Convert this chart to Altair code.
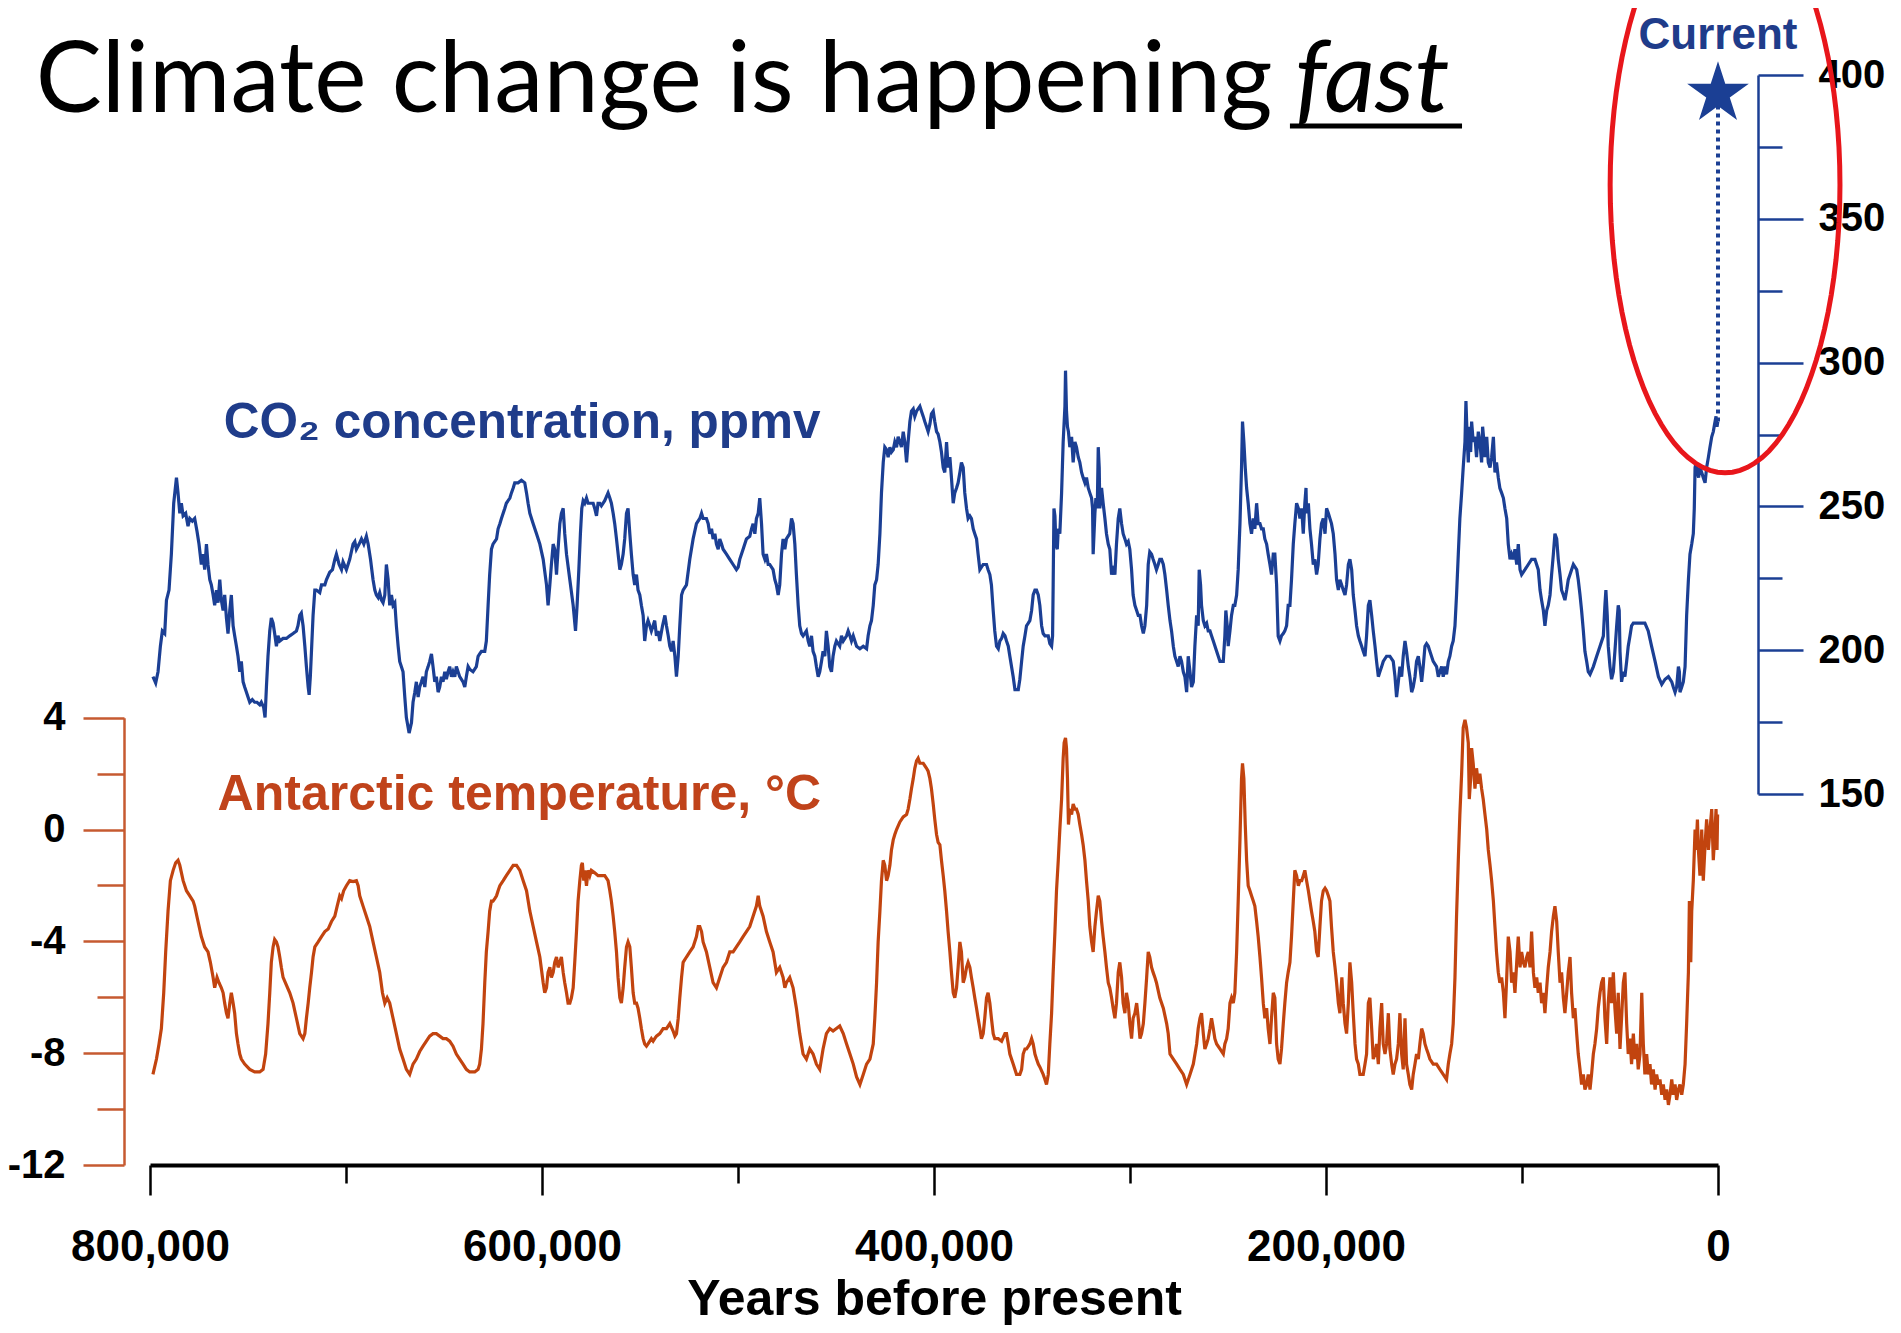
import math
import altair as alt
import pandas as pd

# ---------------- data ----------------
# CO2 record: age in thousands of years before present, CO2 in ppmv
co2_kyr = [
798.5,797.1,795.9,794.7,793.7,792.5,791.6,790.3,789.1,787.9,786.5,785.7,784.8,784.0,783.1,781.8,780.6,779.7,778.4,777.2,
776.0,775.0,773.8,772.9,772.1,771.2,770.4,769.5,768.7,767.8,767.0,766.1,765.3,764.4,763.6,762.7,761.9,761.0,760.2,759.3,
758.5,757.6,756.8,755.9,755.1,754.2,753.4,752.5,751.7,750.8,750.0,749.1,747.8,746.6,745.4,744.0,743.2,742.0,741.3,740.6,
739.8,738.9,738.1,737.2,736.4,735.5,734.7,733.8,732.1,730.4,728.7,727.0,725.3,724.5,723.6,722.8,721.9,721.0,720.2,719.3,
718.8,718.2,717.5,716.8,715.9,715.1,713.4,712.5,710.8,710.0,708.3,706.9,705.7,704.9,703.5,702.3,701.5,699.8,698.1,696.4,
695.5,694.7,693.3,692.1,690.9,689.6,688.7,687.5,686.2,685.3,684.5,683.6,682.8,681.9,681.1,680.2,679.4,678.5,677.7,676.8,
676.0,675.1,674.3,673.4,672.6,
670.9,670.0,669.2,667.8,666.6,665.8,664.9,664.1,663.2,662.4,661.5,660.7,659.8,659.0,658.1,657.3,656.4,655.6,654.7,653.9,
653.0,652.2,651.3,650.5,649.6,648.8,647.9,647.1,646.2,645.4,644.5,643.7,642.0,640.3,639.4,638.6,637.7,636.9,635.2,633.5,
632.6,631.8,630.9,629.2,628.4,627.5,626.7,625.8,625.0,623.2,622.4,621.5,620.7,619.0,618.2,616.4,615.6,614.7,613.9,612.2,
610.5,608.8,607.9,607.1,606.2,604.5,602.8,601.1,599.4,597.7,596.9,596.0,595.2,594.3,593.5,592.6,591.8,590.9,590.1,589.2,
588.4,587.5,585.8,584.1,582.9,582.1,581.2,580.4,579.7,579.0,578.2,577.3,576.5,575.6,573.9,573.1,572.2,571.4,570.5,569.7,
568.0,566.3,565.4,564.6,563.7,562.9,562.0,560.3,559.5,558.6,557.8,556.9,556.1,555.2,554.4,553.5,552.7,551.8,551.0,550.1,
549.3,548.4,547.6,546.7,545.9,545.0,544.2,543.3,542.5,541.6,540.8,
539.9,538.5,537.3,536.5,535.6,534.8,533.9,533.1,532.2,531.4,530.5,529.7,528.8,528.0,526.3,524.6,522.9,521.2,519.5,518.6,
517.8,516.1,515.2,514.4,513.5,512.7,511.8,511.0,510.1,509.3,508.4,507.6,505.9,504.2,502.5,500.8,499.9,499.1,497.4,495.7,
494.0,493.1,492.3,491.4,490.6,489.7,488.9,488.0,487.2,486.3,485.5,484.6,483.8,482.1,481.2,480.4,479.5,478.7,477.8,477.0,
476.1,475.3,473.6,472.7,471.9,471.0,470.2,469.3,468.5,467.6,466.8,465.1,464.2,463.4,462.5,461.7,460.8,460.0,459.1,458.3,
457.4,456.6,455.7,454.9,454.0,453.2,452.3,451.5,450.6,449.8,448.1,447.2,446.3,444.6,443.8,442.9,442.1,441.2,439.5,437.8,
436.1,434.4,433.6,432.7,431.9,431.0,430.2,429.3,428.5,427.6,426.8,425.9,425.1,424.2,423.4,422.5,421.7,420.8,420.0,419.1,
418.3,417.4,416.6,415.7,414.9,414.0,413.2,412.3,411.5,410.6,409.8,408.9,
407.2,406.4,405.5,404.7,403.8,403.0,402.1,401.3,400.4,399.6,398.7,397.9,397.0,396.2,395.3,394.5,393.6,392.8,391.9,391.1,
390.2,389.4,388.5,387.7,386.8,386.0,385.1,384.3,383.4,382.6,381.7,380.9,380.0,379.2,378.3,377.5,376.6,374.9,373.2,372.4,
371.5,370.7,369.8,369.0,368.1,367.2,366.4,365.5,364.7,363.8,363.0,362.1,361.3,359.6,358.7,357.0,356.2,355.3,354.5,353.6,
352.8,351.9,351.1,350.2,349.4,348.5,347.7,346.8,346.0,345.1,344.3,343.4,341.7,340.9,340.0,339.5,339.2,338.8,338.3,337.8,
337.1,336.6,335.8,334.9,334.1,333.2,332.9,332.4,331.9,331.4,330.7,329.8,329.0,328.1,327.3,326.4,325.6,324.7,323.9,323.0,
322.2,321.3,320.5,319.6,319.1,318.8,317.9,317.4,316.7,316.2,315.7,315.4,314.5,313.7,312.8,312.0,311.1,310.3,309.4,308.6,
307.7,306.9,306.0,305.2,304.3,303.5,302.6,301.8,300.9,300.1,299.2,298.4,297.5,296.6,295.8,294.9,294.1,293.2,292.4,291.5,
290.7,289.9,289.0,288.2,287.3,286.5,285.6,284.8,283.9,283.0,282.2,281.3,280.5,279.6,278.8,277.9,277.1,276.2,275.4,
274.5,273.7,272.8,272.0,271.1,270.3,269.4,268.6,267.7,266.9,266.0,265.2,264.7,264.0,263.5,262.6,261.8,260.9,260.1,259.2,
258.4,257.5,255.8,254.1,252.4,251.6,251.1,250.4,249.9,249.0,248.2,247.3,246.5,245.6,244.8,243.9,243.1,242.6,241.9,241.2,
240.5,239.7,238.8,238.0,237.1,236.3,235.4,234.6,233.7,232.9,232.0,231.2,230.3,229.5,228.6,227.8,226.9,226.1,225.2,224.4,
223.5,222.7,221.8,221.0,220.1,219.3,218.4,217.6,216.7,215.9,215.0,214.1,213.3,212.4,211.6,210.8,210.2,209.9,209.0,208.2,
207.4,206.5,205.7,204.8,204.0,203.1,202.3,201.4,200.5,199.7,198.8,198.0,197.2,196.3,195.4,194.6,193.7,192.9,192.0,191.2,
190.3,189.5,188.6,187.8,186.9,186.1,185.2,184.4,183.5,182.7,181.8,181.0,180.1,179.3,178.4,177.6,176.7,175.9,175.0,174.2,
173.3,172.5,171.6,170.8,169.1,167.4,165.7,164.8,164.0,163.1,162.3,161.4,160.6,159.7,158.9,158.0,157.2,156.3,155.5,154.6,
153.8,152.9,152.1,151.2,150.4,149.5,148.7,147.8,147.0,145.3,143.6,142.7,
141.9,141.0,140.2,139.3,138.5,137.6,136.8,135.9,135.1,134.2,133.4,132.5,131.7,130.8,130.0,129.1,128.6,127.9,127.4,126.9,
126.2,125.7,124.9,124.0,123.2,122.3,121.5,120.6,120.1,119.4,118.9,118.0,117.2,116.3,115.5,114.6,113.8,113.0,112.1,111.3,
110.4,109.5,108.7,107.8,107.0,106.1,105.3,104.4,103.6,102.7,101.9,101.0,100.2,98.5,96.8,95.1,93.4,91.7,90.8,90.0,
89.1,88.3,87.4,86.6,85.7,84.9,84.0,83.2,82.3,81.5,80.6,79.8,78.9,78.1,77.2,76.4,75.5,74.7,73.8,72.1,
71.3,70.4,69.6,68.7,67.9,67.0,66.2,65.3,63.6,61.9,60.2,58.5,57.7,57.2,56.5,56.0,55.1,54.3,53.4,52.6,
51.7,50.9,50.4,50.0,49.2,48.3,47.5,46.6,45.8,44.9,44.1,43.2,39.8,37.3,35.6,33.9,32.1,30.4,28.7,27.0,
25.3,23.6,22.8,21.9,21.1,20.2,19.7,19.4,18.5,17.7,16.8,16.0,15.1,14.3,13.4,12.6,12.1,11.7,11.2,10.5,
9.9,9.2,8.3,7.5,6.6,5.8,4.9,4.1,3.2,2.4,1.5,1.0,0.5,0.1,
]
co2_ppm = [
190.8,188.6,192.5,201.4,206.7,205.8,217.4,220.9,233.4,251.1,260.0,254.7,247.6,251.1,246.7,247.6,243.1,245.8,244.9,245.8,
241.3,236.9,229.8,233.4,228.0,236.9,229.8,224.5,222.7,219.2,215.6,220.9,216.5,224.5,217.4,213.8,219.2,211.2,205.8,213.8,
219.2,208.5,205.0,201.4,197.9,192.5,196.1,189.0,187.2,185.4,183.7,181.9,182.8,181.9,181.9,181.0,181.9,180.1,176.6,187.2,
197.9,206.7,211.2,209.4,205.8,201.4,205.0,203.2,204.1,204.1,205.0,205.8,206.7,208.5,212.1,212.9,208.5,201.4,194.3,187.2,
184.5,190.8,201.4,212.1,220.9,220.9,220.0,222.7,222.7,224.5,227.1,228.0,231.6,233.4,229.8,228.0,230.7,228.0,231.6,236.9,
237.8,235.1,236.9,238.7,236.9,239.6,236.9,231.6,224.5,220.9,219.2,218.3,220.0,217.4,216.5,219.2,229.8,224.5,215.6,219.2,
215.6,216.5,208.5,201.4,196.1,
192.5,183.7,176.6,171.2,174.8,181.9,185.4,189.0,183.7,187.2,189.0,190.8,187.2,192.5,194.3,196.1,198.7,194.3,189.0,190.8,
185.4,187.2,190.8,189.0,192.5,189.9,192.5,194.3,190.8,192.5,190.8,194.3,190.8,189.0,187.2,190.8,194.3,193.4,192.5,194.3,
197.9,198.7,199.6,199.6,203.2,215.6,226.3,235.1,236.9,238.7,242.2,244.0,245.8,249.3,251.1,252.9,254.7,256.4,258.2,258.2,
259.1,258.2,254.7,251.1,247.6,244.0,240.5,236.9,231.6,222.7,215.6,222.7,229.8,236.9,235.1,226.3,235.1,244.0,247.6,249.3,
240.5,233.4,224.5,215.6,206.7,215.6,228.0,240.5,249.3,252.0,251.1,252.9,251.1,251.1,251.1,249.3,246.7,251.1,251.1,250.2,
252.0,254.7,252.9,251.1,247.6,244.0,238.7,228.0,229.8,233.4,238.7,247.6,249.3,240.5,233.4,226.3,222.7,226.3,220.9,219.2,
215.6,212.1,203.2,208.5,210.3,208.5,206.7,208.5,210.3,205.0,206.7,
203.2,208.5,212.1,208.5,205.0,201.4,199.6,203.2,197.9,190.8,197.9,208.5,219.2,220.9,222.7,231.6,238.7,244.0,245.8,247.6,
245.8,245.8,244.0,240.5,242.2,238.7,240.5,236.9,235.1,238.7,236.9,235.1,233.4,231.6,229.8,228.0,228.9,231.6,235.1,238.7,
239.6,242.2,244.0,240.5,245.8,247.6,252.9,244.0,233.4,231.6,233.4,229.8,229.8,228.0,224.5,222.7,219.2,222.7,233.4,238.7,
235.1,238.7,240.5,245.8,244.0,236.9,226.3,215.6,208.5,205.8,205.0,206.7,203.2,201.4,205.0,199.6,197.9,194.3,190.8,192.5,
196.1,199.6,197.9,206.7,201.4,194.3,192.5,197.9,201.4,203.2,201.4,205.0,203.2,205.0,206.7,205.0,203.2,205.0,201.4,200.5,
201.4,200.5,205.0,208.5,210.3,215.6,222.7,224.5,229.8,240.5,254.7,265.3,270.6,269.7,267.1,270.6,268.9,269.7,272.4,270.6,
274.2,272.4,270.6,276.0,272.4,265.3,272.4,279.5,283.1,283.9,281.3,283.1,
284.8,283.1,281.3,279.5,277.7,276.0,278.6,282.2,283.1,279.5,276.0,275.1,272.4,268.9,263.5,261.8,272.4,263.5,267.1,260.0,
251.1,254.7,256.4,258.2,261.8,265.3,263.5,254.7,249.3,245.8,246.7,245.8,242.2,240.5,238.7,233.4,228.0,229.8,229.8,228.0,
226.3,222.7,213.8,206.7,201.4,200.5,203.2,204.1,205.8,205.0,203.2,201.4,197.9,190.8,186.3,186.3,189.9,196.1,201.4,205.0,
208.5,209.4,210.3,213.8,219.2,220.9,220.9,219.2,215.6,208.5,205.8,205.0,205.0,202.3,201.4,205.0,222.7,249.3,246.7,236.9,
235.1,242.2,240.5,254.7,272.4,284.8,297.2,283.1,277.7,276.0,270.6,274.2,265.3,272.4,270.6,267.1,265.3,261.8,260.0,258.2,
260.0,256.4,254.7,252.9,249.3,233.4,247.6,252.9,249.3,270.6,263.5,249.3,256.4,251.1,245.8,240.5,236.9,235.1,226.3,228.0,
226.3,236.9,245.8,249.3,244.0,240.5,238.7,236.9,237.8,235.1,228.0,219.2,215.6,213.8,212.1,212.1,208.5,205.8,208.5,215.6,
229.8,234.2,233.4,231.6,229.8,228.0,229.8,231.6,231.6,229.8,226.3,220.9,215.6,210.3,206.7,201.4,197.9,196.1,194.3,
197.9,196.1,192.5,190.8,185.4,197.9,192.5,187.2,189.0,201.4,212.1,208.5,228.0,222.7,215.6,210.3,208.5,209.4,206.7,206.7,
205.0,203.2,199.6,196.1,196.1,205.0,213.8,208.5,201.4,206.7,212.1,215.6,215.6,219.2,228.0,244.0,263.5,279.5,272.4,263.5,
256.4,251.1,244.0,240.5,245.8,242.2,251.1,244.0,244.0,242.2,242.2,238.7,236.9,233.4,229.8,226.3,233.4,233.4,222.7,204.9,
203.2,205.0,205.8,206.7,208.5,215.6,215.6,224.5,236.9,244.0,251.1,249.3,245.8,249.3,240.5,251.1,256.4,247.6,251.1,242.2,
236.9,229.8,231.6,226.3,229.8,238.7,244.0,245.8,240.5,249.3,247.6,245.8,244.0,240.5,233.4,224.5,220.9,224.5,222.7,220.9,
219.2,222.7,229.8,231.6,228.0,219.2,213.8,208.5,205.0,203.2,201.4,199.6,197.9,205.0,215.6,217.4,212.1,206.7,201.4,196.1,
190.8,192.5,194.3,196.1,197.9,197.9,196.1,190.8,183.7,189.0,194.3,190.8,197.9,203.2,199.6,194.3,190.8,185.4,187.2,190.8,
196.1,197.9,194.3,189.0,194.3,201.4,202.3,201.4,199.6,196.1,194.3,190.8,
192.5,194.3,190.8,194.3,191.6,196.1,197.9,201.4,203.2,208.5,219.2,233.4,245.8,254.7,263.5,272.4,286.6,272.4,265.3,277.7,
268.9,279.5,272.4,274.2,267.1,276.0,272.4,265.3,277.7,272.4,267.1,274.2,265.3,263.5,267.1,274.2,261.8,265.3,260.0,256.4,
254.7,252.9,249.3,245.8,236.9,231.6,233.4,231.6,235.1,229.8,236.9,228.0,226.3,228.0,229.8,231.6,231.6,228.0,220.9,217.4,
213.8,208.5,213.8,215.6,219.2,226.3,233.4,240.5,238.7,231.6,226.3,220.9,219.2,217.4,220.9,224.5,226.3,228.0,229.8,228.0,
224.5,219.2,213.8,206.7,199.6,196.1,192.5,191.6,194.3,197.9,201.4,204.9,215.6,220.9,212.1,201.4,194.3,189.9,192.5,199.6,
208.5,215.6,213.8,199.6,189.0,192.5,190.8,196.1,201.4,205.0,208.5,209.4,209.4,209.4,206.7,201.4,196.1,190.8,188.1,189.9,
190.8,189.0,187.2,185.4,187.2,194.3,192.5,185.4,187.2,189.0,194.3,212.1,224.5,233.4,236.9,240.5,249.3,263.5,265.3,261.8,
260.0,263.5,261.8,260.0,258.2,263.5,267.1,270.6,274.2,276.0,279.5,281.3,277.7,279.5,
]

# Antarctic temperature anomaly: age in kyr before present, degrees C
temp_kyr = [
798.5,796.7,795.4,794.2,793.0,792.0,790.8,789.6,788.2,786.9,785.7,784.8,783.1,781.4,779.7,778.0,777.2,775.5,773.8,772.1,
770.4,769.2,767.8,767.0,765.8,764.8,763.6,762.7,761.9,761.0,760.2,759.3,758.5,757.6,756.8,755.9,755.1,754.2,753.4,751.7,
749.1,746.6,744.0,742.3,741.0,739.8,738.9,738.1,737.2,736.4,735.5,734.7,733.8,733.0,732.1,730.4,728.7,727.0,725.3,723.6,
721.9,721.0,720.2,719.3,718.5,717.6,716.8,715.9,714.2,712.5,710.8,709.1,707.4,705.7,704.5,703.2,702.3,701.2,699.8,698.1,
696.4,694.7,693.8,693.0,691.3,689.6,687.9,686.2,684.5,682.8,681.4,680.2,679.0,677.7,676.0,674.3,672.6,
670.9,669.2,667.5,665.8,664.1,662.4,660.7,659.0,657.3,655.6,653.9,652.2,650.5,648.8,647.1,645.4,643.7,642.0,640.3,638.6,
636.9,634.3,632.6,631.8,630.9,630.1,629.2,628.4,627.5,626.7,625.8,625.0,624.1,623.2,622.4,621.5,619.8,618.2,616.4,614.7,
613.0,611.3,609.6,607.9,606.2,604.5,602.8,601.1,599.4,598.6,597.7,596.9,596.0,595.2,594.3,593.5,592.6,591.8,590.9,590.1,
589.2,588.4,587.5,586.7,585.8,585.0,584.1,583.3,582.4,581.6,580.7,579.9,579.4,578.7,578.2,577.3,576.5,575.6,574.8,573.1,
571.4,569.7,568.0,566.3,565.4,564.6,563.7,562.9,562.0,561.2,560.3,559.5,558.6,557.8,556.9,556.1,555.2,554.4,553.5,552.7,
551.8,551.0,550.1,549.3,548.4,547.6,546.7,545.9,545.0,544.2,543.3,542.5,541.6,539.9,
538.2,536.5,534.8,533.1,532.2,531.4,530.5,529.7,528.8,528.0,526.3,524.6,522.9,521.2,520.3,519.5,518.6,517.8,516.1,514.4,
512.7,511.0,509.3,507.6,505.9,504.2,502.5,500.8,499.1,497.4,495.7,494.0,492.3,490.6,489.7,488.9,487.2,485.5,483.8,482.1,
480.4,478.7,477.0,476.1,475.3,473.6,471.9,470.2,468.5,466.8,465.1,463.4,461.7,460.0,458.3,456.6,454.9,453.2,451.5,449.8,
448.1,446.3,444.6,442.9,441.2,439.5,437.8,436.1,434.4,432.7,431.0,430.2,429.3,428.5,427.6,426.8,425.9,425.1,424.2,423.4,
422.5,421.7,420.8,420.0,419.1,417.4,415.7,414.0,413.2,412.3,411.5,410.6,409.8,408.9,408.1,407.2,
405.5,403.8,403.0,402.1,401.3,400.4,399.6,398.7,397.9,397.0,396.2,395.3,394.5,393.6,392.8,391.9,391.1,390.2,389.4,388.5,
387.7,386.8,386.0,385.1,384.3,383.4,382.6,381.7,380.9,380.0,379.2,378.3,377.5,376.6,375.8,374.9,374.1,373.2,372.4,371.5,
370.7,369.8,369.0,367.2,365.5,363.8,363.0,362.1,361.3,359.6,357.9,356.2,355.3,354.5,353.6,352.8,351.9,351.1,350.2,349.4,
348.5,347.7,346.8,346.0,344.3,343.4,342.6,341.7,340.9,340.0,339.2,338.3,337.5,336.6,335.8,334.9,334.1,333.6,332.9,332.4,
331.9,331.4,330.7,329.8,329.0,328.1,327.3,326.4,325.6,324.7,323.9,323.0,322.2,321.3,320.5,319.6,318.8,317.9,317.1,316.2,
315.4,314.5,313.7,312.8,312.0,311.1,310.3,309.4,308.6,307.7,306.9,306.0,305.2,304.3,303.5,302.6,301.8,300.9,300.1,299.2,
298.4,297.5,296.6,295.8,294.9,294.1,293.2,292.4,291.5,290.7,289.9,289.0,288.2,287.3,286.5,284.8,283.0,281.3,280.5,279.6,
277.9,276.2,274.5,
272.8,271.1,269.4,267.7,266.0,265.2,264.3,263.5,262.6,261.8,260.9,260.1,259.2,258.4,257.5,256.7,255.8,254.1,252.4,251.6,
250.7,249.9,249.0,248.2,247.3,246.5,245.6,244.8,243.9,243.1,242.6,241.9,241.2,240.5,239.7,238.8,238.0,237.1,236.3,235.4,
234.6,233.7,232.9,232.0,231.2,230.3,229.5,228.6,227.8,226.9,226.1,225.2,224.4,223.5,222.7,221.8,221.0,220.1,219.3,218.4,
217.6,216.7,215.9,215.0,214.1,213.3,212.4,211.6,210.8,209.9,209.0,208.2,207.4,206.5,205.7,204.8,204.0,203.1,202.3,201.4,
200.5,199.7,198.8,198.0,197.2,196.3,195.4,194.6,193.7,192.9,192.4,191.9,191.2,190.3,189.5,188.6,187.8,186.9,186.1,185.2,
184.4,183.5,182.7,181.8,181.0,180.1,179.3,178.4,177.6,176.7,175.9,175.0,174.2,173.3,172.5,171.6,170.8,169.9,169.1,168.2,
167.4,166.5,165.7,164.8,164.0,163.1,162.3,161.4,160.6,159.7,158.9,158.0,157.2,156.3,155.5,154.6,153.8,152.9,152.1,151.2,
150.4,149.5,148.7,147.8,147.0,145.3,143.6,141.9,
140.2,138.5,137.6,136.8,135.9,135.1,134.2,133.4,132.5,131.7,130.8,130.0,129.1,128.3,127.4,126.9,126.2,125.7,124.9,124.0,
123.2,122.3,121.5,120.6,119.8,118.9,118.0,117.2,116.3,115.5,114.6,113.8,113.0,112.1,111.3,110.4,109.5,108.7,107.8,107.0,
106.1,105.3,104.4,103.6,102.7,101.9,101.0,100.2,99.3,98.5,97.6,96.8,95.9,95.1,94.2,93.4,92.5,91.7,90.8,90.0,
89.1,88.3,87.4,86.6,85.7,84.9,84.0,83.2,82.3,81.5,80.6,79.8,78.9,78.1,77.2,76.4,75.5,74.7,73.8,73.0,
72.1,71.3,70.4,69.6,68.7,67.9,67.0,66.2,65.3,64.5,63.6,62.8,61.9,61.1,60.2,59.4,58.5,57.7,56.8,56.0,
55.1,54.3,53.4,52.6,51.7,50.9,50.0,49.2,48.3,47.5,46.6,45.8,44.9,44.1,43.2,42.4,41.5,40.7,39.8,38.9,
38.1,37.3,36.4,35.6,34.7,33.9,33.0,32.1,31.3,30.4,29.6,28.7,27.9,27.0,26.2,25.3,24.5,23.6,22.8,21.9,
21.1,20.2,19.4,18.5,17.7,16.8,16.0,15.1,14.6,13.9,13.4,12.6,11.7,11.2,10.5,10.0,9.2,8.3,7.5,6.6,
5.8,4.9,4.1,3.2,2.4,1.5,1.0,0.5,0.2,
]
temp_c = [
-8.76,-8.21,-7.67,-7.12,-5.84,-4.38,-2.92,-1.83,-1.46,-1.19,-1.10,-1.28,-1.83,-2.19,-2.37,-2.56,-2.74,-3.29,-3.83,-4.20,
-4.38,-4.75,-5.29,-5.66,-5.29,-5.48,-5.66,-5.84,-6.21,-6.57,-6.75,-6.21,-5.84,-6.21,-6.57,-7.30,-7.67,-8.03,-8.21,-8.39,
-8.58,-8.67,-8.67,-8.58,-8.03,-6.94,-5.84,-4.75,-4.20,-3.93,-4.02,-4.20,-4.56,-4.93,-5.29,-5.57,-5.84,-6.21,-6.75,-7.30,
-7.48,-7.30,-6.75,-6.21,-5.66,-5.11,-4.56,-4.20,-4.02,-3.83,-3.65,-3.56,-3.29,-3.10,-2.74,-2.37,-2.47,-2.19,-2.01,-1.83,
-1.86,-1.83,-2.01,-2.37,-2.74,-3.10,-3.47,-4.02,-4.56,-5.11,-5.84,-6.21,-6.02,-6.21,-6.75,-7.30,-7.85,
-8.21,-8.58,-8.76,-8.39,-8.21,-7.94,-7.75,-7.57,-7.39,-7.30,-7.30,-7.39,-7.48,-7.48,-7.57,-7.75,-8.03,-8.21,-8.39,-8.58,
-8.67,-8.67,-8.58,-8.39,-7.85,-6.94,-5.48,-4.38,-3.65,-2.92,-2.56,-2.56,-2.47,-2.37,-2.19,-2.01,-1.83,-1.65,-1.46,-1.28,
-1.28,-1.46,-1.83,-2.19,-2.92,-3.47,-4.02,-4.56,-5.48,-5.84,-5.66,-5.11,-4.93,-5.29,-5.11,-4.75,-4.56,-4.93,-4.75,-4.56,
-5.11,-5.48,-5.84,-6.21,-6.21,-6.02,-5.66,-4.75,-3.65,-2.56,-1.83,-1.28,-1.19,-1.83,-1.46,-2.01,-1.46,-1.65,-1.46,-1.55,
-1.65,-1.65,-1.65,-1.83,-2.19,-2.56,-3.10,-3.65,-4.38,-5.29,-6.02,-6.21,-5.66,-4.93,-4.20,-4.02,-4.20,-4.93,-5.84,-6.21,
-6.21,-6.39,-6.75,-7.12,-7.48,-7.67,-7.75,-7.67,-7.57,-7.48,-7.57,-7.48,-7.39,-7.30,
-7.12,-7.12,-6.94,-7.21,-7.39,-7.30,-6.75,-6.02,-5.29,-4.75,-4.56,-4.38,-4.20,-3.83,-3.47,-3.47,-3.65,-4.02,-4.38,-4.93,
-5.48,-5.66,-5.29,-4.93,-4.75,-4.38,-4.38,-4.20,-4.02,-3.83,-3.65,-3.47,-3.10,-2.74,-2.37,-2.74,-3.10,-3.65,-4.02,-4.38,
-5.11,-4.93,-5.29,-5.66,-5.48,-5.29,-5.66,-6.39,-7.30,-8.03,-8.21,-7.85,-8.03,-8.39,-8.58,-7.85,-7.30,-7.12,-7.21,-7.12,
-7.03,-7.30,-7.67,-8.03,-8.39,-8.85,-9.12,-8.76,-8.39,-8.21,-7.67,-6.75,-5.48,-4.02,-2.92,-1.83,-1.10,-1.28,-1.83,-1.65,
-1.28,-0.73,-0.37,-0.18,0.00,0.27,0.45,0.54,0.73,1.09,1.46,1.82,2.19,2.46,2.55,2.37,
2.37,2.19,2.09,1.82,1.46,0.91,0.36,-0.18,-0.46,-0.55,-1.10,-1.65,-2.19,-2.92,-3.65,-4.38,-5.11,-5.84,-6.02,-5.66,
-4.93,-4.02,-4.38,-5.48,-5.29,-4.93,-4.75,-4.93,-5.29,-5.66,-6.02,-6.39,-6.75,-7.12,-7.48,-7.30,-6.75,-6.02,-5.84,-6.21,
-6.75,-7.30,-7.48,-7.48,-7.57,-7.30,-7.30,-7.67,-8.03,-8.39,-8.76,-8.76,-8.58,-8.03,-7.85,-7.85,-7.76,-7.67,-7.48,-7.67,
-8.03,-8.21,-8.39,-8.49,-8.76,-8.94,-9.12,-8.76,-7.67,-6.57,-5.11,-3.65,-2.19,-1.10,0.00,1.09,2.55,3.10,3.28,2.91,
1.82,0.18,0.73,0.54,0.91,0.73,0.73,0.54,0.18,-0.18,-0.55,-1.10,-1.83,-2.56,-3.47,-4.02,-4.38,-3.47,-2.92,-2.37,
-2.56,-3.29,-3.83,-4.38,-4.93,-5.48,-5.66,-6.02,-6.39,-6.75,-6.21,-5.11,-4.75,-5.29,-6.21,-6.57,-5.84,-6.21,-6.94,-7.48,
-6.75,-6.57,-6.21,-6.75,-7.48,-7.30,-6.94,-6.21,-5.29,-4.38,-4.56,-4.93,-5.11,-5.29,-5.48,-6.02,-6.39,-6.94,-7.30,-8.03,
-8.21,-8.39,-8.58,
-8.76,-9.12,-8.76,-8.39,-7.67,-7.12,-6.75,-6.57,-7.30,-7.85,-7.67,-7.48,-7.12,-6.75,-7.12,-7.48,-7.67,-7.85,-8.03,-7.67,
-7.48,-7.12,-6.21,-6.02,-6.21,-5.84,-4.38,-2.56,-0.37,1.82,2.37,1.82,0.18,-1.10,-2.01,-2.19,-2.37,-2.56,-2.74,-3.29,
-3.83,-4.56,-5.29,-6.21,-6.75,-6.39,-7.12,-7.67,-6.75,-5.84,-6.02,-7.67,-8.21,-8.39,-7.85,-6.94,-6.21,-5.48,-5.11,-4.75,
-3.83,-2.56,-1.46,-1.65,-2.01,-1.83,-1.83,-1.65,-1.46,-1.83,-2.19,-2.56,-2.92,-3.29,-3.65,-4.38,-4.56,-3.47,-2.56,-2.19,
-2.10,-2.19,-2.37,-2.56,-3.47,-4.38,-4.93,-5.48,-6.21,-6.57,-5.84,-5.29,-6.21,-6.94,-7.30,-6.21,-4.75,-5.48,-6.57,-7.67,
-8.21,-8.39,-8.76,-8.76,-8.76,-8.39,-8.03,-6.21,-6.02,-7.12,-8.21,-8.03,-7.67,-8.39,-7.12,-6.21,-7.67,-8.03,-7.67,-6.57,
-7.85,-8.39,-8.76,-8.39,-8.21,-7.67,-6.57,-8.03,-8.58,-6.75,-8.39,-8.76,-9.12,-9.30,-8.76,-8.39,-8.03,-8.21,-7.67,-7.12,
-7.30,-7.67,-7.85,-8.03,-8.21,-8.39,-8.39,-8.58,
-8.76,-8.94,-8.39,-8.03,-7.67,-6.94,-5.29,-3.10,-1.10,0.54,2.00,3.64,3.92,3.64,3.10,1.09,1.82,2.91,2.37,1.46,
2.19,1.64,2.00,1.46,1.09,0.54,0.00,-0.73,-1.28,-1.83,-2.56,-3.47,-4.38,-5.11,-5.48,-5.29,-5.84,-6.75,-5.29,-3.83,
-4.38,-5.48,-5.11,-5.84,-4.75,-3.83,-4.93,-4.38,-4.75,-4.93,-4.56,-4.38,-4.93,-3.65,-5.11,-5.66,-5.29,-5.84,-5.48,-6.21,
-5.84,-6.57,-5.66,-4.93,-4.38,-3.65,-3.10,-2.74,-3.29,-4.38,-5.48,-5.11,-6.02,-6.57,-5.84,-5.11,-4.56,-5.84,-6.75,-6.39,
-7.30,-8.03,-8.58,-9.12,-8.76,-9.30,-9.12,-8.76,-9.30,-8.76,-8.03,-7.67,-7.12,-6.39,-5.84,-5.48,-5.29,-6.75,-7.67,-6.21,
-5.29,-6.21,-5.11,-6.39,-7.30,-5.84,-7.85,-6.75,-5.48,-5.11,-6.94,-8.03,-7.48,-8.39,-7.30,-8.21,-7.67,-8.58,-8.03,-5.84,
-7.67,-8.76,-8.03,-8.76,-8.39,-9.12,-8.58,-9.30,-8.76,-9.12,-8.94,-9.49,-9.12,-9.67,-9.30,-9.85,-9.49,-8.94,-9.49,-9.12,
-9.67,-9.30,-9.12,-9.49,-9.12,-8.39,-6.94,-5.11,-2.56,-4.75,-2.92,-1.83,0.00,-0.73,0.36,-0.73,-1.65,0.00,-1.83,-0.55,
0.36,-0.73,0.00,0.73,-1.10,0.00,0.73,-0.73,0.54,
]

# axis tick values
x_major = [800, 600, 400, 200, 0]
x_minor = [700, 500, 300, 100]
temp_major = [-12, -8, -4, 0, 4]
temp_minor = [-10, -6, -2, 2]
co2_major = [150, 200, 250, 300, 350, 400]
co2_minor = [175, 225, 275, 325, 375]

# "current" CO2 value and the last ice-core value it is joined to
current_kyr = [0.0]
current_ppm = [393.5]
last_core_ppm = [co2_ppm[-1]]

# ---------------- styling ----------------
BLUE = "#1b3f94"
BLUE_TEXT = "#1f3c8a"
ORANGE = "#c2440f"
ORANGE_AXIS = "#c65a30"
ORANGE_TEXT = "#c0431b"
RED = "#e8161b"
LAB_FONT = "Liberation Sans"
TITLE_FONT = "Lato"

W, H = 1568, 1090
X_SCALE = alt.Scale(domain=[800, 0], nice=False, zero=False)
CO2_SCALE = alt.Scale(domain=[150, 400], range=[719, 0], nice=False, zero=False)
TEMP_SCALE = alt.Scale(domain=[-12, 4], range=[1090, 642.7], nice=False, zero=False)

co2_df = pd.DataFrame({"kyr": co2_kyr, "ppm": co2_ppm, "i": range(len(co2_kyr))})
temp_df = pd.DataFrame({"kyr": temp_kyr, "t": temp_c, "i": range(len(temp_kyr))})


def xenc():
    return alt.X("kyr:Q", scale=X_SCALE, axis=None)


x_axis_major = alt.Axis(
    orient="bottom", values=x_major, labelExpr="format(datum.value * 1000, ',')",
    tickSize=30, tickWidth=2.5, tickColor="black", domainColor="black", domainWidth=4,
    labelFont=LAB_FONT, labelFontWeight="bold", labelFontSize=44, labelColor="black",
    labelPadding=30, labelFlush=False, labelOverlap=False,
    titleFont=LAB_FONT, titleFontWeight="bold", titleFontSize=50, titleColor="black",
    titlePadding=5, grid=False,
)
x_axis_minor = alt.Axis(orient="bottom", values=x_minor, tickSize=18, tickWidth=2.5,
                        tickColor="black", labels=False, domain=False, grid=False)

temp_axis_major = alt.Axis(
    orient="left", offset=26, values=temp_major, labelExpr="'' + datum.value",
    tickSize=41, tickWidth=2.5, tickColor=ORANGE_AXIS, domainColor=ORANGE_AXIS, domainWidth=2.5,
    labelFont=LAB_FONT, labelFontWeight="bold", labelFontSize=40, labelColor="black",
    labelPadding=18, labelFlush=False, labelOverlap=False, grid=False,
)
temp_axis_minor = alt.Axis(orient="left", offset=26, values=temp_minor, tickSize=27,
                           tickWidth=2.5, tickColor=ORANGE_AXIS, labels=False, domain=False, grid=False)

co2_axis_major = alt.Axis(
    orient="right", offset=40, values=co2_major,
    tickSize=45, tickWidth=2.5, tickColor=BLUE, domainColor=BLUE, domainWidth=2.5,
    labelFont=LAB_FONT, labelFontWeight="bold", labelFontSize=40, labelColor="black",
    labelPadding=15, labelFlush=False, labelOverlap=False, grid=False,
)
co2_axis_minor = alt.Axis(orient="right", offset=40, values=co2_minor, tickSize=24,
                          tickWidth=2.5, tickColor=BLUE, labels=False, domain=False, grid=False)

# ---------------- layers ----------------
temp_line = alt.Chart(temp_df).mark_line(color=ORANGE, strokeWidth=3.2).encode(
    x=alt.X("kyr:Q", scale=X_SCALE, axis=x_axis_major, title="Years before present"),
    y=alt.Y("t:Q", scale=TEMP_SCALE, axis=temp_axis_major, title=None),
    order="i:Q",
)
temp_minor_layer = alt.Chart(temp_df).mark_line(opacity=0).encode(
    x=alt.X("kyr:Q", scale=X_SCALE, axis=x_axis_minor, title=None),
    y=alt.Y("t:Q", scale=TEMP_SCALE, axis=temp_axis_minor, title=None),
    order="i:Q",
)
co2_line = alt.Chart(co2_df).mark_line(color=BLUE, strokeWidth=3.2).encode(
    x=xenc(),
    y=alt.Y("ppm:Q", scale=CO2_SCALE, axis=co2_axis_major, title=None),
    order="i:Q",
)
co2_minor_layer = alt.Chart(co2_df).mark_line(opacity=0).encode(
    x=xenc(),
    y=alt.Y("ppm:Q", scale=CO2_SCALE, axis=co2_axis_minor, title=None),
    order="i:Q",
)

cur_df = pd.DataFrame({"kyr": current_kyr, "ppm": current_ppm, "lo": last_core_ppm})
dotted = alt.Chart(cur_df).mark_rule(color=BLUE, strokeWidth=4, strokeDash=[4, 4]).encode(
    x=xenc(),
    y=alt.Y("lo:Q", scale=CO2_SCALE, axis=None),
    y2="ppm:Q",
)

# five-pointed star as a unit symbol path (outer radius 1, inner 0.382)
star_pts = []
for k in range(10):
    r = 1.0 if k % 2 == 0 else 0.382
    a = -math.pi / 2 + k * math.pi / 5
    star_pts.append(f"{r * math.cos(a):.4f},{r * math.sin(a):.4f}")
star_path = "M" + " L".join(star_pts) + " Z"
star = alt.Chart(cur_df).mark_point(shape=star_path, filled=True, size=4200, color=BLUE,
                                    opacity=1).encode(
    x=xenc(),
    y=alt.Y("ppm:Q", scale=CO2_SCALE, axis=None),
)

# annotation anchors in data units (kyr, ppm / degC)
ann_current = pd.DataFrame({"kyr": [0.0], "ppm": [413.5], "txt": ["Current"]})
ann_co2 = pd.DataFrame({"kyr": [762.4], "ppm": [279.0], "txt": ["CO₂ concentration, ppmv"]})
ann_temp = pd.DataFrame({"kyr": [765.5], "t": [1.24], "txt": ["Antarctic temperature, °C"]})
ann_title = pd.DataFrame({"kyr": [858.3], "ppm": [387.0], "txt": ["Climate change is happening"]})
ann_fast = pd.DataFrame({"kyr": [215.9], "ppm": [387.0], "txt": ["fast"]})
ann_underline = pd.DataFrame({"kyr": [218.4], "kyr2": [130.6], "ppm": [382.3]})
ann_ellipse = pd.DataFrame({"kyr": [-3.6], "ppm": [361.8]})


def text_layer(df, yfield, yscale, **mark):
    return alt.Chart(df).mark_text(**mark).encode(
        x=xenc(), y=alt.Y(f"{yfield}:Q", scale=yscale, axis=None), text="txt:N"
    )


current_txt = text_layer(ann_current, "ppm", CO2_SCALE, font=LAB_FONT, fontWeight="bold",
                         fontSize=44, color=BLUE_TEXT, align="center", baseline="middle")
co2_txt = text_layer(ann_co2, "ppm", CO2_SCALE, font=LAB_FONT, fontWeight="bold",
                     fontSize=49.5, color=BLUE_TEXT, align="left", baseline="middle")
temp_txt = text_layer(ann_temp, "t", TEMP_SCALE, font=LAB_FONT, fontWeight="bold",
                      fontSize=50, color=ORANGE_TEXT, align="left", baseline="middle")
title_txt = text_layer(ann_title, "ppm", CO2_SCALE, font=TITLE_FONT, fontSize=99,
                       color="black", align="left", baseline="alphabetic")
fast_txt = text_layer(ann_fast, "ppm", CO2_SCALE, font=TITLE_FONT, fontSize=99, fontStyle="italic",
                      color="black", align="left", baseline="alphabetic")
underline = alt.Chart(ann_underline).mark_rule(color="black", strokeWidth=5).encode(
    x=xenc(), x2="kyr2:Q", y=alt.Y("ppm:Q", scale=CO2_SCALE, axis=None)
)

# ellipse outline as a custom symbol (unit shape, aspect rx/ry = 115/288)
n = 96
ell_path = "M" + " L".join(
    f"{0.399 * math.cos(2 * math.pi * k / n):.4f},{math.sin(2 * math.pi * k / n):.4f}" for k in range(n)
) + " Z"
ellipse = alt.Chart(ann_ellipse).mark_point(shape=ell_path, size=576 * 576, filled=False,
                                            color=RED, strokeWidth=5, opacity=1).encode(
    x=xenc(), y=alt.Y("ppm:Q", scale=CO2_SCALE, axis=None)
)

chart = (
    alt.layer(temp_line, temp_minor_layer, co2_line, co2_minor_layer, dotted, star,
              current_txt, co2_txt, temp_txt, title_txt, fast_txt, underline, ellipse)
    .resolve_scale(x="independent", y="independent")
    .resolve_axis(x="independent", y="independent")
    .properties(width=W, height=H, autosize=alt.AutoSizeParams(type="none"),
                padding={"left": 142, "top": 67, "right": 170, "bottom": 160})
    .configure_view(stroke=None)
    .configure_axis(grid=False)
)

chart.save("out.html", embed_options={"renderer": "svg", "actions": False})
